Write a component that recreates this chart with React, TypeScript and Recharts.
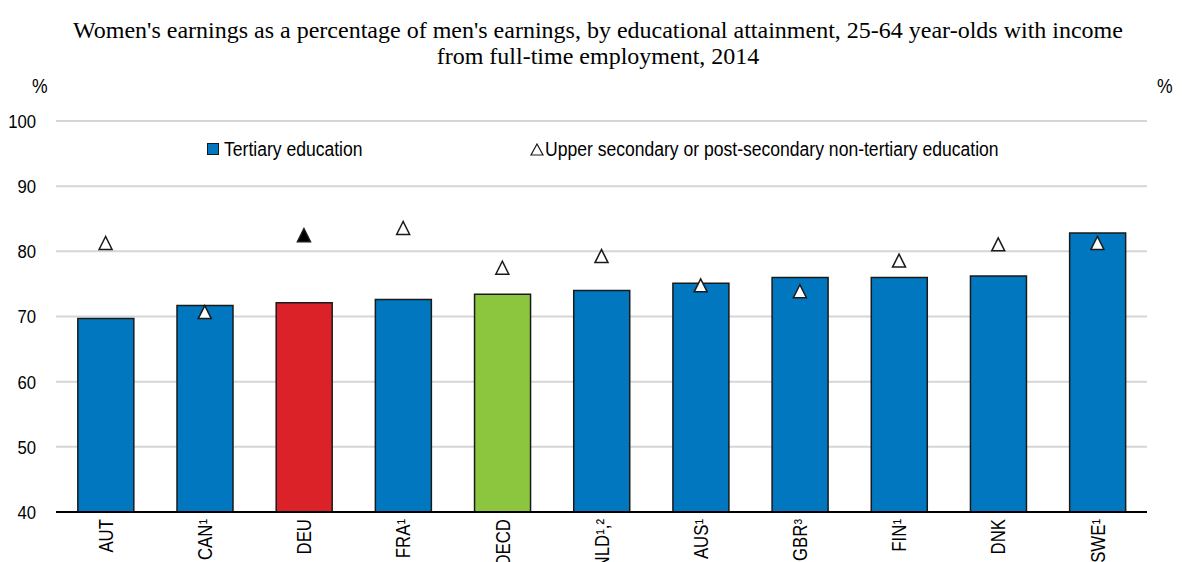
import React from "react";
import { ComposedChart, Bar, Scatter, Cell, XAxis, YAxis, CartesianGrid } from "recharts";

const countries = ["AUT", "CAN¹", "DEU", "FRA¹", "OECD", "NLD¹,²", "AUS¹", "GBR³", "FIN¹", "DNK", "SWE¹"];
const tertiary = [69.7, 71.7, 72.1, 72.6, 73.4, 74.0, 75.1, 76.0, 76.0, 76.2, 82.8];
const upperSecondary = [81.2, 70.6, 82.4, 83.5, 77.4, 79.2, 74.7, 73.8, 78.5, 81.0, 81.2];
const yTicks = [40, 50, 60, 70, 80, 90, 100];

const BLUE = "#0077bf";
const RED = "#dc2229";
const GREEN = "#8cc63f";
const OUTLINE = "#1a1a1a";
const FONT = "'Liberation Sans', Arial, sans-serif";

const data = countries.map((c, i) => ({
  country: c,
  tertiary: tertiary[i],
  upper: upperSecondary[i],
}));

const barColour = (c: string) => (c === "DEU" ? RED : c === "OECD" ? GREEN : BLUE);

const Triangle = (props: any) => {
  const { cx, cy, payload } = props;
  if (cx == null || cy == null) return null;
  const filled = payload && payload.country === "DEU";
  return (
    <polygon
      points={`${cx},${cy - 7} ${cx - 6.5},${cy + 6} ${cx + 6.5},${cy + 6}`}
      fill={filled ? "#000" : "#fff"}
      stroke={OUTLINE}
      strokeWidth={1.5}
    />
  );
};

// rotated country labels, squeezed a bit to look like Arial Narrow
const CountryTick = (props: any) => {
  const { x, y, payload } = props;
  return (
    <g transform={`translate(${x},${y + 7}) rotate(-90) scale(0.84,1)`}>
      <text x={0} y={0} dy="0.36em" textAnchor="end" fill="#000" fontSize={20} fontFamily={FONT}>
        {payload.value}
      </text>
    </g>
  );
};

const ValueTick = (props: any) => {
  const { x, y, payload, side } = props;
  return (
    <g transform={`translate(${x},${y}) scale(0.88,1)`}>
      <text
        x={0}
        y={0}
        dy="0.36em"
        textAnchor={side === "left" ? "end" : "start"}
        fill="#000"
        fontSize={19}
        fontFamily={FONT}
      >
        {payload.value}
      </text>
    </g>
  );
};

const narrow = (left: number, top: number, text: string) => (
  <span
    style={{
      position: "absolute",
      left,
      top,
      fontFamily: FONT,
      fontSize: 19.5,
      lineHeight: "22px",
      whiteSpace: "nowrap",
      transform: "scaleX(0.9)",
      transformOrigin: "0 0",
    }}
  >
    {text}
  </span>
);

export default function App() {
  return (
    <div style={{ position: "absolute", left: 0, top: 0, width: 1196, height: 562, background: "#fff" }}>
      <div
        style={{
          position: "absolute",
          top: 17,
          left: 0,
          width: 1196,
          textAlign: "center",
          fontFamily: "'Liberation Serif', 'Times New Roman', serif",
          fontSize: 24,
          lineHeight: "26px",
        }}
      >
        Women's earnings as a percentage of men's earnings, by educational attainment, 25-64 year-olds with income
        <br />
        from full-time employment, 2014
      </div>
      {narrow(32, 75, "%")}
      {narrow(1157, 75, "%")}

      <ComposedChart
        width={1196}
        height={562}
        data={data}
        margin={{ top: 121, right: 0, bottom: 0, left: 0 }}
        barCategoryGap="22%"
      >
        <CartesianGrid vertical={false} stroke="#d6d6d6" strokeWidth={2} yAxisId="left" />
        <XAxis
          dataKey="country"
          height={50}
          interval={0}
          tickLine={false}
          tickSize={0}
          tickMargin={0}
          axisLine={{ stroke: "#000", strokeWidth: 2 }}
          tick={<CountryTick />}
        />
        <YAxis
          yAxisId="left"
          width={56}
          domain={[40, 100]}
          ticks={yTicks}
          axisLine={false}
          tickLine={false}
          tickSize={0}
          tickMargin={20}
          tick={<ValueTick side="left" />}
        />
        <YAxis
          yAxisId="right"
          orientation="right"
          width={49}
          domain={[40, 100]}
          ticks={yTicks}
          axisLine={false}
          tickLine={false}
          tickSize={0}
          tickMargin={19}
          tick={<ValueTick side="right" />}
        />
        <Bar yAxisId="left" dataKey="tertiary" stroke={OUTLINE} strokeWidth={1.5} isAnimationActive={false}>
          {data.map((d) => (
            <Cell key={d.country} fill={barColour(d.country)} />
          ))}
        </Bar>
        <Scatter yAxisId="left" dataKey="upper" shape={<Triangle />} isAnimationActive={false} />
      </ComposedChart>

      {/* legend */}
      <span
        style={{
          position: "absolute",
          left: 207,
          top: 143,
          width: 10,
          height: 10,
          background: BLUE,
          border: `1.5px solid ${OUTLINE}`,
        }}
      />
      {narrow(224, 138, "Tertiary education")}
      <svg width={14} height={13} style={{ position: "absolute", left: 530, top: 143 }}>
        <polygon points="7,1 1,12 13,12" fill="#fff" stroke={OUTLINE} strokeWidth={1.2} />
      </svg>
      {narrow(545, 138, "Upper secondary or post-secondary non-tertiary education")}
    </div>
  );
}
